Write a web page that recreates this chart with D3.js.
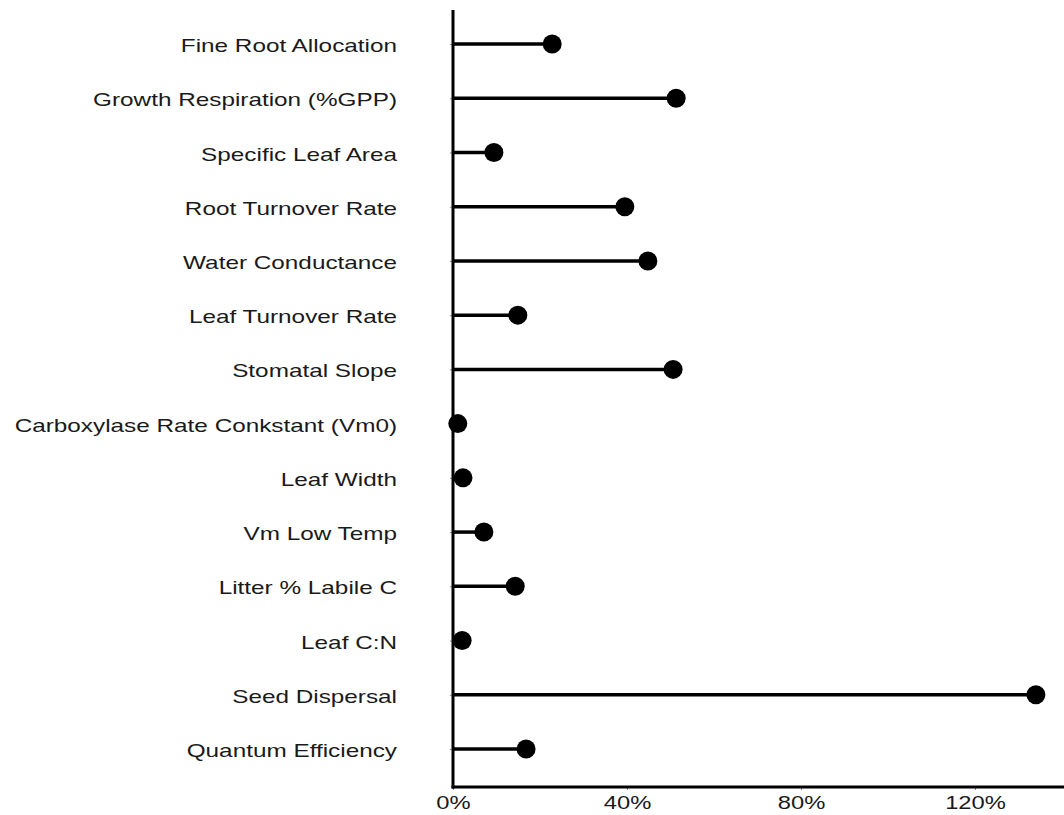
<!DOCTYPE html>
<html><head><meta charset="utf-8">
<script src="https://cdn.jsdelivr.net/npm/d3@7"></script>
<style>html,body{margin:0;padding:0;background:#fff;}svg{display:block;}</style>
</head><body>
<script>
const categories = ["Fine Root Allocation","Growth Respiration (%GPP)","Specific Leaf Area","Root Turnover Rate","Water Conductance","Leaf Turnover Rate","Stomatal Slope","Carboxylase Rate Conkstant (Vm0)","Leaf Width","Vm Low Temp","Litter % Labile C","Leaf C:N","Seed Dispersal","Quantum Efficiency"];
const values = [22.8, 51.3, 9.4, 39.5, 44.8, 14.9, 50.6, 1.1, 2.3, 7.1, 14.3, 2.1, 134.0, 16.8];
const xTicks = [0, 40, 80, 120];

const W = 1064, H = 815;
const SX = 1.28;
const svg = d3.select("body").append("svg").attr("width", W).attr("height", H);
const x = d3.scaleLinear().domain([0, 140]).range([453, 1062]);
const y = d3.scalePoint().domain(categories).range([44, 749]);

const font = "'Liberation Sans', Arial, Helvetica, sans-serif";

// y axis
const ya = svg.append("g").attr("transform", `translate(${x(0)},0)`)
  .call(d3.axisLeft(y).tickSize(3));
ya.select(".domain").remove();
ya.selectAll(".tick line").attr("stroke", "#888").attr("stroke-width", 1);
ya.selectAll(".tick text").attr("font-family", font).attr("font-size", 19).attr("fill", "#1a1a1a")
  .attr("x", -56 / SX).attr("dy", "0.4em").attr("transform", `scale(${SX},1)`);

// x axis
const xa = svg.append("g").attr("transform", `translate(0,787)`)
  .call(d3.axisBottom(x).tickValues(xTicks).tickFormat(d => d + "%").tickSize(3).tickPadding(6));
xa.select(".domain").remove();
xa.selectAll(".tick line").attr("stroke", "#888");
xa.selectAll(".tick text").attr("font-family", font).attr("font-size", 19).attr("fill", "#1a1a1a")
  .attr("transform", `scale(1.25,1)`);

// axis lines
svg.append("line").attr("x1", x(0)).attr("x2", x(0)).attr("y1", 10).attr("y2", 788.5)
  .attr("stroke", "#000").attr("stroke-width", 3);
svg.append("line").attr("x1", x(0) - 1.5).attr("x2", W).attr("y1", 787).attr("y2", 787)
  .attr("stroke", "#000").attr("stroke-width", 3);

const data = categories.map((c, i) => ({c, v: values[i]}));
svg.append("g").selectAll("line").data(data).join("line")
  .attr("x1", x(0)).attr("x2", d => x(d.v))
  .attr("y1", d => y(d.c)).attr("y2", d => y(d.c))
  .attr("stroke", "#000").attr("stroke-width", 3.5);
svg.append("g").selectAll("circle").data(data).join("circle")
  .attr("cx", d => x(d.v)).attr("cy", d => y(d.c)).attr("r", 9.5).attr("fill", "#000");
</script>
</body></html>
